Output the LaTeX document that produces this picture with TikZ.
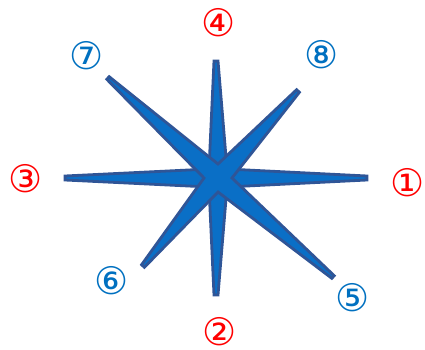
\documentclass[tikz,border=0pt]{standalone}
\usepackage{fontspec}
\newfontfamily\circfont{DejaVu Sans}
\definecolor{starfill}{HTML}{0A6FC6}
\definecolor{starline}{HTML}{2F5597}
\definecolor{lblred}{HTML}{FF0000}
\definecolor{lblblue}{HTML}{0070C0}
\tikzset{
  starpart/.style={fill=starfill, draw=starline, line width=2.8pt, line join=miter, miter limit=2},
  lbl/.style={font=\circfont\fontsize{38}{38}\selectfont, inner sep=0pt},
  redlbl/.style={lbl, text=lblred},
  bluelbl/.style={lbl, text=lblblue}
}
\begin{document}
\begin{tikzpicture}[x=1pt,y=-1pt]
\useasboundingbox (0,0) rectangle (425,350);
% plus-shaped four-point star
\draw[starpart] (367,176) -- (367,180) -- (227,187) -- (218,295) -- (214,295)
  -- (209,187) -- (65,180) -- (65,176) -- (209,169) -- (214,61) -- (218,61)
  -- (227,169) -- cycle;
% X-shaped four-point star
\draw[starpart] (296.6,89.7) -- (299.4,92.3) -- (232,178) -- (334.2,275.7) -- (331.8,278.3)
  -- (218,192) -- (144.4,267.3) -- (141.6,264.7) -- (204,178) -- (106.8,79.3)
  -- (109.2,76.7) -- (218,164) -- cycle;
% labels
\node[redlbl]  (n1) at (408,183) {①};
\node[redlbl]  (n2) at (220,332) {②};
\node[redlbl]  (n3) at (26,179)  {③};
\node[redlbl]  (n4) at (218.5,22.5) {④};
\node[bluelbl] (n5) at (353,298) {⑤};
\node[bluelbl] (n6) at (112,281) {⑥};
\node[bluelbl] (n7) at (87,56)   {⑦};
\node[bluelbl] (n8) at (322,55)  {⑧};
\end{tikzpicture}
\end{document}
